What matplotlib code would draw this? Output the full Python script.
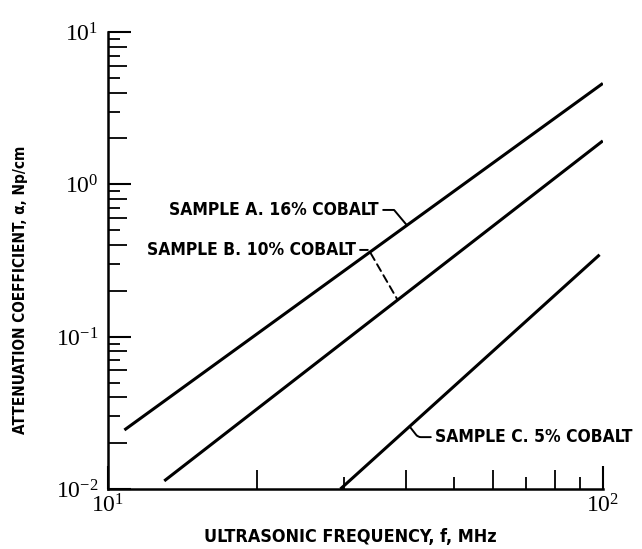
import numpy as np
import matplotlib
matplotlib.use("Agg")
import matplotlib.pyplot as plt
from matplotlib.ticker import FixedLocator, FuncFormatter, NullFormatter

# ---- data ----
freq_a = [10.8, 100.0]
alpha_a = [0.0244, 4.6]
freq_b = [13.0, 100.0]
alpha_b = [0.0113, 1.93]
freq_c = [29.5, 98.5]
alpha_c = [0.0100, 0.345]
labels = ["SAMPLE A. 16% COBALT", "SAMPLE B. 10% COBALT", "SAMPLE C. 5% COBALT"]

x_major = [10, 100]
x_even = [20, 40, 60, 80]
x_odd = [30, 50, 70, 90]
y_major = [0.01, 0.1, 1, 10]
y_even = [d * m for d in (0.01, 0.1, 1) for m in (2, 4, 6, 8)]
y_odd = [d * m for d in (0.01, 0.1, 1) for m in (3, 5, 7, 9)]

xlabel = "ULTRASONIC FREQUENCY, f, MHz"
ylabel = "ATTENUATION COEFFICIENT, \u03b1, Np/cm"

plt.rcParams["mathtext.fontset"] = "custom"
plt.rcParams["mathtext.rm"] = "Liberation Serif"
plt.rcParams["mathtext.it"] = "Liberation Serif:italic"
plt.rcParams["mathtext.bf"] = "Liberation Serif:bold"

label_font = dict(family=["Liberation Sans Narrow", "DejaVu Sans"], fontstretch="condensed",
                  fontweight="bold")

fig = plt.figure(figsize=(6.42, 5.49), dpi=100)
ax = fig.add_axes([0.168, 0.1093, 0.771, 0.8324])
ax.set_xscale("log")
ax.set_yscale("log")
ax.set_xlim(10, 100)
ax.set_ylim(0.01, 10)

lw = 2.2
for fr, al in ((freq_a, alpha_a), (freq_b, alpha_b), (freq_c, alpha_c)):
    ax.plot(fr, al, color="black", lw=lw, solid_capstyle="butt")

for s in ("top", "right"):
    ax.spines[s].set_visible(False)
for s in ("left", "bottom"):
    ax.spines[s].set_linewidth(1.8)

def fmt(v, pos):
    e = int(round(np.log10(v)))
    return r"$10^{%d}$" % e

ax.xaxis.set_major_locator(FixedLocator(x_major))
ax.xaxis.set_minor_locator(FixedLocator(x_even))
ax.yaxis.set_major_locator(FixedLocator(y_major))
ax.yaxis.set_minor_locator(FixedLocator(y_even))
ax.xaxis.set_major_formatter(FuncFormatter(fmt))
ax.yaxis.set_major_formatter(FuncFormatter(fmt))
ax.xaxis.set_minor_formatter(NullFormatter())
ax.yaxis.set_minor_formatter(NullFormatter())
ax.tick_params(which="major", direction="in", length=16.5, width=1.5, labelsize=17)
ax.tick_params(which="minor", direction="in", length=13.5, width=1.3)
ax.tick_params(axis="x", which="major", pad=3)
ax.tick_params(axis="y", which="major", pad=7)

# short odd minor ticks via secondary axes
secx = ax.secondary_xaxis("bottom")
secx.spines["bottom"].set_visible(False)
secx.xaxis.set_major_locator(FixedLocator(x_odd))
secx.xaxis.set_major_formatter(NullFormatter())
secx.xaxis.set_minor_locator(FixedLocator([]))
secx.tick_params(which="both", direction="in", length=8.8, width=1.3)
secy = ax.secondary_yaxis("left")
secy.spines["left"].set_visible(False)
secy.yaxis.set_major_locator(FixedLocator(y_odd))
secy.yaxis.set_major_formatter(NullFormatter())
secy.yaxis.set_minor_locator(FixedLocator([]))
secy.tick_params(which="both", direction="in", length=8.6, width=1.3)

def on_line(fx, fr, al):
    return 10 ** np.interp(np.log10(fx), np.log10(fr), np.log10(al))

tsize = 12.5
ax.annotate(labels[0], xy=(40.2, on_line(40.2, freq_a, alpha_a)), xytext=(35.3, 0.679),
            ha="right", va="center", fontsize=tsize, **label_font,
            arrowprops=dict(arrowstyle="-", lw=1.4, color="black", shrinkA=1, shrinkB=0,
                            relpos=(1, 0.5), connectionstyle="angle,angleA=0,angleB=130,rad=0"))
ax.annotate(labels[1], xy=(38.5, on_line(38.5, freq_b, alpha_b)), xytext=(31.7, 0.371),
            ha="right", va="center", fontsize=tsize, **label_font,
            arrowprops=dict(arrowstyle="-", lw=1.4, color="black", linestyle=(0, (4, 2.5)),
                            shrinkA=1, shrinkB=0, relpos=(1, 0.5),
                            connectionstyle="angle,angleA=0,angleB=120,rad=0"))
ax.annotate(labels[2], xy=(40.7, on_line(40.7, freq_c, alpha_c)), xytext=(45.8, 0.0219),
            ha="left", va="center", fontsize=tsize, **label_font,
            arrowprops=dict(arrowstyle="-", lw=1.4, color="black", shrinkA=1, shrinkB=0,
                            relpos=(0, 0.5), connectionstyle="angle,angleA=180,angleB=128,rad=3"))

ax.set_xlabel(xlabel, fontsize=12.9, **label_font)
ax.set_ylabel(ylabel, fontsize=11, **label_font)
ax.xaxis.set_label_coords(0.49, -0.104)
ax.yaxis.set_label_coords(-0.176, 0.435)
ax.xaxis.label.set_va("center")
ax.yaxis.label.set_va("center")

fig.savefig("out.png", dpi=100)
